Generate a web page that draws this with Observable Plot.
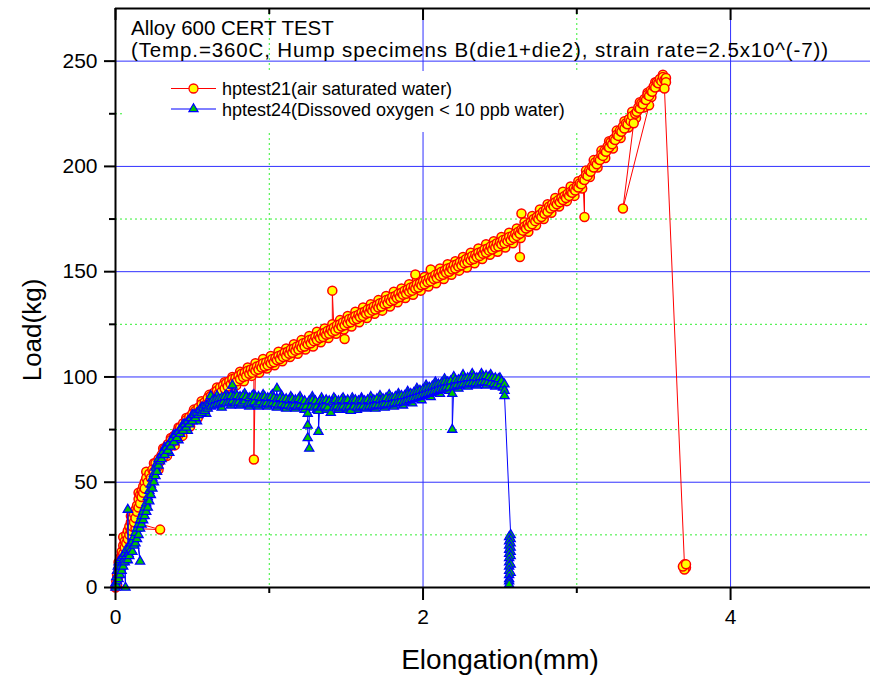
<!DOCTYPE html>
<html><head><meta charset="utf-8">
<script src="https://cdn.jsdelivr.net/npm/d3@7"></script>
<script src="https://cdn.jsdelivr.net/npm/@observablehq/plot@0.6"></script>
<style>
body{margin:0;background:#fff;font-family:"Liberation Sans",Arial,sans-serif;}
#chart svg{display:block;}
</style></head><body><div id="chart"></div>
<script>
const titleLines = ["Alloy 600 CERT TEST", "(Temp.=360C, Hump specimens B(die1+die2), strain rate=2.5x10^(-7))"];
const seriesNames = ["hptest21(air saturated water)", "hptest24(Dissoved oxygen < 10 ppb water)"];
const xTitle = "Elongation(mm)";
const yTitle = "Load(kg)";
const xDomain = [0, 4.91];
const yDomain = [0, 275];
const xMajorTicks = [0, 2, 4];
const xMinorTicks = [1, 3];
const yMajorTicks = [0, 50, 100, 150, 200, 250];
const yMinorTicks = [25, 75, 125, 175, 225];

// hptest21 (air saturated water): [elongation mm, load kg], in recorded order
const hptest21 = [
[0,0],[0.005,3],[0.01,1],[0.01,6],[0.015,4],[0.02,9],[0.02,12],[0.025,8],[0.03,14],[0.035,11],[0.04,17],[0.04,14],[0.05,20],[0.05,16],
[0.06,22],[0.06,19],[0.07,25],[0.07,21],[0.08,27],[0.08,23],[0.09,29],[0.09,25],[0.1,31],[0.1,27],[0.11,33],[0.11,29],[0.12,35],
[0.13,28],[0.29,27.5],[0.12,31],[0.13,37],[0.13,33],[0.14,39],[0.14,36],[0.15,42],[0.15,38],[0.16,44],[0.16,40],[0.17,46],[0.17,43],
[0.18,48],[0.18,45],[0.19,50],[0.19,47],[0.2,52],[0.21,50],[0.22,54],[0.23,52],[0.24,56],[0.25,55],[0.26,59],[0.27,57],[0.28,61],
[0.29,60],[0.3,63],[0.31,62],[0.32,66],[0.33,65],[0.34,68],[0.35,67],[0.36,70],[0.37,69],[0.38,72],[0.39,71],[0.4,74],[0.41,72.5],
[0.42,76],[0.43,74.5],[0.44,78],[0.45,76],[0.46,79.5],[0.47,78],[0.48,81],[0.49,79.5],[0.5,82.5],[0.51,81],[0.52,84],[0.53,82.5],
[0.54,85.5],[0.55,84],[0.56,87],[0.57,85.5],[0.58,88],[0.59,87],[0.6,90],[0.61,88],[0.62,91],[0.63,89.5],[0.64,92.5],[0.65,91],
[0.66,93.5],[0.67,92],[0.68,95],[0.69,93],[0.7,96],[0.71,94.5],[0.72,97],[0.73,95.5],[0.74,98],[0.75,96.5],[0.76,99],[0.77,97.5],
[0.78,99.5],[0.79,98],[0.8,100.5],[0.81,99],[0.82,101.5],[0.83,100],[0.84,102],[0.85,100.5],[0.86,103],[0.87,101.5],[0.88,103.5],
[0.89,102],[0.9,104],[0.9,60.8],[0.91,103],[0.92,105],[0.93,103.5],[0.94,105.5],[0.95,104.5],[0.96,106.5],[0.97,105],[0.98,107],
[0.99,105.5],[1.0,107.5],[1.01,106.5],[1.02,108.5],[1.03,107],[1.04,109],[1.05,108],[1.06,110],[1.07,108.5],[1.08,110.5],[1.09,109.5],
[1.1,111.5],[1.11,110],[1.12,112],[1.13,111],[1.14,113],[1.15,111.5],[1.16,113.5],[1.17,112.5],[1.18,114.5],[1.19,113],[1.2,115],
[1.21,114],[1.22,116],[1.23,114.5],[1.24,116.5],[1.25,115.5],[1.26,117.5],[1.27,116],[1.28,118],[1.29,117],[1.3,119],[1.31,117.5],
[1.32,119.5],[1.33,118.5],[1.34,120.5],[1.35,119],[1.36,121],[1.37,120],[1.38,122],[1.39,120.5],[1.4,122.5],[1.41,121.5],[1.41,141],
[1.42,123.5],[1.43,122],[1.44,124.5],[1.45,123],[1.46,125],[1.47,124],[1.49,118],[1.48,126],[1.49,124.5],[1.5,126.5],[1.51,125.5],
[1.52,127.5],[1.53,126],[1.54,128],[1.55,127],[1.56,129],[1.57,127.5],[1.58,129.5],[1.59,128.5],[1.6,130.5],[1.61,129],[1.62,131],
[1.63,130],[1.64,132],[1.65,130.5],[1.66,132.5],[1.67,131.5],[1.68,133.5],[1.69,132],[1.7,134],[1.71,133],[1.72,135],[1.73,133.5],
[1.74,135.5],[1.75,134.5],[1.76,136.5],[1.77,135],[1.78,137],[1.79,136],[1.8,138],[1.81,136.5],[1.82,138.5],[1.83,137.5],[1.84,139.5],
[1.85,138],[1.86,140],[1.87,139],[1.88,141],[1.89,139.5],[1.9,141.5],[1.91,140.5],[1.92,142.5],[1.93,141],[1.94,143],[1.95,148.7],
[1.95,142],[1.96,144],[1.97,142.5],[1.98,144.5],[1.99,143.5],[2.0,145.5],[2.01,144],[2.02,146],[2.03,145],[2.05,151],[2.04,147],
[2.05,145.5],[2.06,147.5],[2.07,146.5],[2.08,148.5],[2.09,147],[2.1,149],[2.11,148],[2.12,150],[2.13,148.5],[2.14,150.5],[2.15,149.5],
[2.16,151.5],[2.17,150],[2.18,152],[2.19,151],[2.2,153],[2.21,151.5],[2.22,153.5],[2.23,152.5],[2.24,154.5],[2.25,153],[2.26,155],
[2.27,154],[2.28,156],[2.29,154.5],[2.3,156.5],[2.31,155.5],[2.32,157.5],[2.33,156],[2.34,158],[2.35,157],[2.36,159],[2.37,157.5],
[2.38,159.5],[2.39,158.5],[2.4,160.5],[2.41,159],[2.42,161],[2.43,160],[2.44,162],[2.45,160.5],[2.46,162.5],[2.47,161.5],[2.48,163.5],
[2.49,162],[2.5,164],[2.51,163],[2.52,165],[2.53,163.5],[2.54,165.5],[2.55,164.5],[2.56,166.5],[2.57,165],[2.58,167],[2.59,166],
[2.6,168],[2.61,167],[2.62,169],[2.63,157],[2.63,168],[2.64,170],[2.64,177.6],[2.65,169.5],[2.66,171.5],[2.67,170.5],[2.68,172.5],
[2.69,171.5],[2.7,173.5],[2.71,172.5],[2.72,175],[2.73,174],[2.74,176],[2.75,175],[2.76,177],[2.77,176],[2.78,178.5],[2.79,177.5],
[2.8,179.5],[2.81,178.5],[2.82,181],[2.83,180],[2.84,182],[2.85,181],[2.86,183],[2.87,182],[2.88,184],[2.89,183],[2.9,185],[2.91,184],
[2.92,186],[2.93,185],[2.94,187],[2.95,186],[2.96,188],[2.97,187.5],[2.98,189.5],[2.99,188.5],[3.0,190.5],[3.01,190],[3.02,192],
[3.03,191.5],[3.04,194],[3.05,176],[3.05,193.5],[3.06,196],[3.07,195.5],[3.08,198],[3.09,197.5],[3.1,200],[3.11,199.5],[3.12,202],
[3.13,201],[3.14,203.5],[3.15,203],[3.16,205.5],[3.17,205],[3.18,207.5],[3.19,207],[3.2,209.5],[3.21,209],[3.22,211.5],[3.23,210.5],
[3.24,213],[3.25,212.5],[3.26,215],[3.27,214.5],[3.28,217],[3.29,216.5],[3.3,219],[3.31,218],[3.32,220.5],[3.33,220],[3.34,222.5],
[3.35,221.5],[3.36,224],[3.37,220.5],[3.3,180],[3.47,229],[3.38,225],[3.39,226],[3.4,228],[3.41,227.5],[3.42,230],[3.43,229.5],
[3.44,232],[3.45,231.5],[3.46,234],[3.47,233.5],[3.48,236],[3.49,235.5],[3.5,238],[3.51,237.5],[3.52,240],[3.53,239.5],[3.54,241.5],
[3.55,240.5],[3.56,242.5],[3.57,241],[3.58,242],[3.58,240],[3.57,237],[3.7,11],[3.71,9.5],[3.7,8.5],[3.69,10],[3.71,11]
];
// hptest21: further samples read from the upper and lower edges of the dense marker band
const hptest21Band = [
[0.05,24],[0.08,21],[0.1,34],[0.13,31],[0.15,45],[0.18,42],[0.2,55],[0.23,50],[0.25,59],[0.28,56],
[0.31,66],[0.335,62.5],[0.36,71],[0.385,67.5],[0.41,76],[0.435,72],[0.46,80.5],[0.485,76.5],[0.51,84.5],[0.535,80.5],[0.56,88.5],
[0.585,84.5],[0.61,91.5],[0.635,88],[0.66,95],[0.685,91.5],[0.71,97.5],[0.735,94],[0.76,100],[0.785,96],[0.81,102.5],[0.835,98],
[0.86,104.5],[0.885,100.5],[0.91,106.5],[0.935,102],[0.96,108.5],[0.985,104],[1.01,110],[1.035,105.5],[1.06,112],[1.085,107.5],
[1.11,113.5],[1.135,109.5],[1.16,115.5],[1.185,111],[1.21,117.5],[1.235,113],[1.26,119.5],[1.285,114.5],[1.31,121.5],[1.335,116.5],
[1.36,123],[1.385,118.5],[1.41,125],[1.435,120.5],[1.46,127],[1.485,122.5],[1.51,129],[1.535,124],[1.56,131],[1.585,126],[1.61,133],
[1.635,128],[1.66,134.5],[1.685,130],[1.71,136.5],[1.735,131.5],[1.76,138.5],[1.785,133.5],[1.81,140.5],[1.835,135.5],[1.86,142],
[1.885,137.5],[1.91,144],[1.935,139],[1.96,146],[1.985,141],[2.01,147.5],[2.035,143],[2.06,149.5],[2.085,144.5],[2.11,151.5],
[2.135,146.5],[2.16,153.5],[2.185,148.5],[2.21,155],[2.235,150.5],[2.26,157],[2.285,152],[2.31,159],[2.335,154],[2.36,161],[2.385,156],
[2.41,163],[2.435,158],[2.46,164.5],[2.485,159.5],[2.51,166.5],[2.535,161.5],[2.56,168.5],[2.585,163.5],[2.61,170.5],[2.635,166],
[2.66,173.5],[2.685,169],[2.71,176.5],[2.735,172],[2.76,179.5],[2.785,175],[2.81,182],[2.835,178],[2.86,185],[2.885,181],[2.91,188],
[2.935,183.5],[2.96,190.5],[2.985,186],[3.01,193],[3.035,189.5],[3.06,198],[3.085,195],[3.11,203],[3.135,199.5],[3.16,207.5],
[3.185,204],[3.21,212],[3.235,208.5],[3.26,217],[3.285,213.5],[3.31,221.5],[3.335,218.5],[3.36,226],[3.385,223],[3.41,230.5],
[3.435,228],[3.46,235],[3.485,233],[3.51,240],[3.535,238],[3.56,243.5]
];

// hptest24 (dissolved oxygen < 10 ppb water): [elongation mm, load kg], in recorded order
const hptest24 = [
[0,0],[0,2],[0.005,5],[0.005,1],[0.01,8],[0.01,3],[0.015,6],[0.015,10],[0.02,4],[0.02,12],[0.025,8],[0.03,13],[0.03,6],[0.035,10],
[0.04,14],[0.04,8],[0.045,12],[0.05,15],[0.05,10],[0.055,13],[0.06,16],[0.065,0],[0.06,12],[0.07,15],[0.07,18],[0.08,13],[0.08,37],
[0.085,16],[0.09,19],[0.09,15],[0.1,18],[0.1,21],[0.11,17],[0.11,22],[0.12,20],[0.12,24],[0.13,21],[0.13,26],[0.14,23],[0.16,12.4],
[0.14,28],[0.15,25],[0.15,30],[0.16,28],[0.16,32],[0.17,30],[0.17,34],[0.18,32],[0.18,36],[0.19,34],[0.19,38],[0.2,36],[0.2,40],
[0.21,38],[0.21,43],[0.22,41],[0.22,46],[0.23,44],[0.23,49],[0.24,47],[0.24,52],[0.25,50],[0.25,54],[0.26,53],[0.26,57],[0.27,55],
[0.27,59],[0.28,58],[0.28,61],[0.29,60],[0.3,63],[0.3,61],[0.31,64.5],[0.32,63],[0.33,66.5],[0.34,65],[0.35,68.5],[0.36,67],[0.37,70.5],
[0.38,69],[0.39,72.5],[0.4,71],[0.41,74],[0.42,73],[0.43,76],[0.44,74.5],[0.45,77.5],[0.46,76],[0.47,79],[0.48,77.5],[0.49,80.5],
[0.5,79],[0.51,82],[0.52,80.5],[0.53,83],[0.54,82],[0.55,84.5],[0.56,83],[0.57,85.5],[0.58,84],[0.59,86.5],[0.6,85],[0.61,87.5],
[0.62,86],[0.62,91],[0.63,88.5],[0.64,86.5],[0.65,89],[0.66,87],[0.67,89.5],[0.68,87.5],[0.69,90],[0.7,88],[0.71,90.5],[0.72,87.5],
[0.73,90.5],[0.74,88],[0.75,91],[0.76,96],[0.76,88.5],[0.77,90.5],[0.78,87.5],[0.79,91],[0.8,88],[0.81,90.5],[0.82,87.5],[0.83,91],
[0.84,88.5],[0.85,90.5],[0.86,87],[0.87,90],[0.88,87.5],[0.89,91],[0.9,88],[0.91,90.5],[0.92,87],[0.93,90.5],[0.94,88],[0.95,90],
[0.96,87],[0.97,90.5],[0.98,87.5],[0.99,90],[1.0,87],[1.01,90.5],[1.02,87.5],[1.03,90],[1.04,87],[1.05,94.5],[1.05,89.5],[1.06,86.5],
[1.07,90],[1.08,87],[1.09,89.5],[1.1,86.5],[1.11,89.5],[1.12,86.5],[1.13,89],[1.14,86],[1.15,89.5],[1.16,86.5],[1.17,89],[1.18,86],
[1.19,89.5],[1.2,86.5],[1.21,89],[1.22,86],[1.23,88.5],[1.24,86],[1.25,82.6],[1.25,77],[1.25,71],[1.26,66],[1.26,88.5],[1.27,86],
[1.28,89],[1.29,85.5],[1.3,88.5],[1.31,86],[1.32,84],[1.32,74],[1.33,88.5],[1.34,85.5],[1.35,88.5],[1.36,86],[1.37,89],[1.38,85.5],
[1.39,88.5],[1.4,83],[1.41,88],[1.42,85.5],[1.43,89],[1.44,86],[1.45,88.5],[1.46,85.5],[1.47,89],[1.48,86],[1.49,88.5],[1.5,85.5],
[1.51,89],[1.52,86],[1.53,84],[1.54,88.5],[1.55,86],[1.56,89],[1.57,85.5],[1.58,88.5],[1.59,86],[1.6,89],[1.61,86],[1.62,88.5],
[1.63,85.5],[1.64,89],[1.65,86],[1.66,88.5],[1.67,86],[1.68,89],[1.69,86.5],[1.7,89.5],[1.71,86.5],[1.72,89],[1.73,86.5],[1.74,89.5],
[1.75,87],[1.76,90],[1.77,87],[1.78,89.5],[1.79,87],[1.8,90],[1.81,87.5],[1.82,90.5],[1.83,87.5],[1.84,90.5],[1.85,88],[1.86,91],
[1.87,88],[1.88,91],[1.89,88.5],[1.9,91.5],[1.91,89],[1.92,92],[1.93,89.5],[1.94,92.5],[1.95,90],[1.96,93],[1.97,90.5],[1.98,93.5],
[1.99,91],[2.0,94],[2.01,91.5],[2.02,94.5],[2.03,92],[2.04,95],[2.05,92.5],[2.06,95.5],[2.07,93],[2.08,96],[2.09,93.5],[2.1,96.5],
[2.11,94],[2.12,97],[2.13,94.5],[2.14,97.5],[2.15,95],[2.16,97.5],[2.17,95],[2.18,98],[2.19,92],[2.19,75],[2.2,95.5],[2.21,98.5],
[2.22,96],[2.23,98.5],[2.24,96],[2.25,99],[2.26,96.5],[2.27,99],[2.28,96.5],[2.29,99.5],[2.3,97],[2.31,99.5],[2.32,97],[2.33,100],
[2.34,97],[2.35,99.5],[2.36,97],[2.37,100],[2.38,97.5],[2.39,100],[2.4,97.5],[2.41,100.5],[2.42,97.5],[2.43,100],[2.44,97],[2.45,99.5],
[2.46,96.5],[2.47,99.5],[2.48,96.5],[2.49,99],[2.5,96],[2.51,98],[2.52,95],[2.53,96.5],[2.53,93.5],[2.53,91],
[2.57,25],[2.56,24],[2.57,23],[2.56,22],[2.57,21],[2.56,20],[2.57,19],[2.56,18],[2.57,17],[2.56,16],[2.57,15],[2.56,14],[2.56,12],
[2.57,11],[2.56,10],[2.56,8],[2.57,7],[2.56,6],[2.56,4],[2.56,3],[2.56,1.5]
];
// hptest24: further samples read from the upper and lower edges of the dense marker band
const hptest24Band = [
[0.32,66.5],[0.35,64],[0.38,72.5],[0.41,70],[0.44,77.5],[0.47,74.5],[0.5,82],[0.53,79],[0.56,85.5],[0.59,82.5],[0.62,88.5],[0.66,91],
[0.69,85.5],[0.72,91.5],[0.75,86.5],[0.78,92],[0.81,86.5],[0.84,92],[0.87,86],[0.9,91.5],[0.93,86],[0.96,91.5],[0.99,86],[1.02,91.5],
[1.05,85.5],[1.08,91],[1.11,85],[1.14,90.5],[1.17,85],[1.2,90.5],[1.23,84.5],[1.28,90.5],[1.31,84.5],[1.34,90],[1.37,84.5],[1.42,90],
[1.45,84.5],[1.48,90],[1.51,84.5],[1.54,90],[1.57,84.5],[1.6,90],[1.63,85],[1.66,90.5],[1.69,85],[1.72,91],[1.75,85.5],[1.78,91.5],
[1.81,86],[1.84,92],[1.87,86.5],[1.9,93],[1.93,87.5],[1.96,94.5],[1.99,89],[2.02,96],[2.05,90.5],[2.08,97.5],[2.11,92],[2.14,99],
[2.17,93.5],[2.2,100],[2.23,94.5],[2.26,101],[2.29,95.5],[2.32,101.5],[2.35,96],[2.38,101.5],[2.41,96],[2.44,101],[2.47,95.5],[2.5,99.5]
];

const toRows = arr => arr.map(([x, y]) => ({x, y}));
const rows21 = toRows(hptest21);
const rows24 = toRows(hptest24);
// edge samples go underneath the recorded sequence
const dots21 = toRows(hptest21Band).concat(rows21);
const dots24 = toRows(hptest24Band).concat(rows24);

const RED = "#ff0000", YELLOW = "#ffff00", BLUE = "#0000ff", GREEN = "#00c800";
const FONT = "Liberation Sans, Arial, Helvetica, sans-serif";

const chart = Plot.plot({
  width: 870, height: 680,
  marginLeft: 115, marginRight: 0, marginTop: 8, marginBottom: 93,
  x: {domain: xDomain},
  y: {domain: yDomain},
  style: {fontFamily: FONT, background: "white", color: "black"},
  marks: [
    Plot.ruleY(yMinorTicks, {stroke: "#33f033", strokeWidth: 1, strokeDasharray: "2,3"}),
    Plot.ruleX(xMinorTicks, {stroke: "#33f033", strokeWidth: 1, strokeDasharray: "2,3"}),
    Plot.ruleY(yMajorTicks.filter(d => d > 0), {stroke: "#3030ff", strokeWidth: 1}),
    Plot.ruleX(xMajorTicks.filter(d => d > 0), {stroke: "#3030ff", strokeWidth: 1}),
    Plot.line(rows21, {x: "x", y: "y", stroke: RED, strokeWidth: 1}),
    Plot.dot(dots21, {x: "x", y: "y", r: 4.5, fill: YELLOW, stroke: RED, strokeWidth: 1.5}),
    Plot.line(rows24, {x: "x", y: "y", stroke: BLUE, strokeWidth: 1}),
    Plot.dot(dots24, {x: "x", y: "y", symbol: "triangle", r: 3.4, fill: GREEN, stroke: BLUE, strokeWidth: 1.3}),
    // frame lines
    Plot.ruleY([yDomain[0], yDomain[1]], {stroke: "black", strokeWidth: 2}),
    Plot.ruleX([xDomain[0]], {stroke: "black", strokeWidth: 2}),
    // top inward ticks
    Plot.ruleX(xMajorTicks, {y1: yDomain[1], y2: yDomain[1], insetBottom: -12, stroke: "black", strokeWidth: 2}),
    Plot.ruleX(xMinorTicks, {y1: yDomain[1], y2: yDomain[1], insetBottom: -6, stroke: "black", strokeWidth: 2}),
    // axes
    Plot.axisY({ticks: yMajorTicks, tickSize: 11, tickPadding: 7, fontSize: 21, label: null, strokeWidth: 2}),
    Plot.axisY({ticks: yMinorTicks, tickSize: 6, tickFormat: () => "", label: null, strokeWidth: 2}),
    Plot.axisX({ticks: xMajorTicks, tickSize: 13, tickPadding: 9, fontSize: 21, tickFormat: d => String(d), label: null, strokeWidth: 2}),
    Plot.axisX({ticks: xMinorTicks, tickSize: 6, tickFormat: () => "", label: null, strokeWidth: 2})
  ]
});

document.getElementById("chart").appendChild(chart);
const svg = d3.select(chart);

// title inside the plot
svg.append("text").attr("x", 131).attr("y", 35).attr("text-anchor", "start").attr("font-size", 20.5).attr("font-family", FONT).attr("fill", "black").text(titleLines[0]);
svg.append("text").attr("x", 131).attr("y", 57).attr("text-anchor", "start").attr("font-size", 20.5).attr("font-family", FONT).attr("fill", "black")
  .attr("textLength", 697).attr("lengthAdjust", "spacing").text(titleLines[1]);

// legend
const lg = svg.append("g");
lg.append("rect").attr("x", 125).attr("y", 71).attr("width", 472).attr("height", 61).attr("fill", "white");
const ly = [88.5, 109];
lg.append("line").attr("x1", 171).attr("x2", 216).attr("y1", ly[0]).attr("y2", ly[0]).attr("stroke", RED).attr("stroke-width", 1);
lg.append("circle").attr("cx", 193.5).attr("cy", ly[0]).attr("r", 4.5).attr("fill", YELLOW).attr("stroke", RED).attr("stroke-width", 1.3);
lg.append("line").attr("x1", 171).attr("x2", 216).attr("y1", ly[1]).attr("y2", ly[1]).attr("stroke", BLUE).attr("stroke-width", 1);
lg.append("path").attr("d", d3.symbol(d3.symbolTriangle, Math.PI * 3.4 * 3.4)()).attr("transform", `translate(193.5,${ly[1]})`)
  .attr("fill", GREEN).attr("stroke", BLUE).attr("stroke-width", 1.2);
seriesNames.forEach((s, i) => {
  lg.append("text").attr("x", 222).attr("y", ly[i] + 6.5).attr("text-anchor", "start").attr("font-size", 18).attr("font-family", FONT).attr("fill", "black").text(s);
});

// axis titles
svg.append("text").attr("x", 500).attr("y", 669).attr("text-anchor", "middle").attr("font-size", 28).attr("font-family", FONT).attr("fill", "black").text(xTitle);
svg.append("text").attr("transform", "translate(41,330) rotate(-90)").attr("text-anchor", "middle").attr("font-size", 26).attr("font-family", FONT).attr("fill", "black").text(yTitle);
</script>
</body></html>
